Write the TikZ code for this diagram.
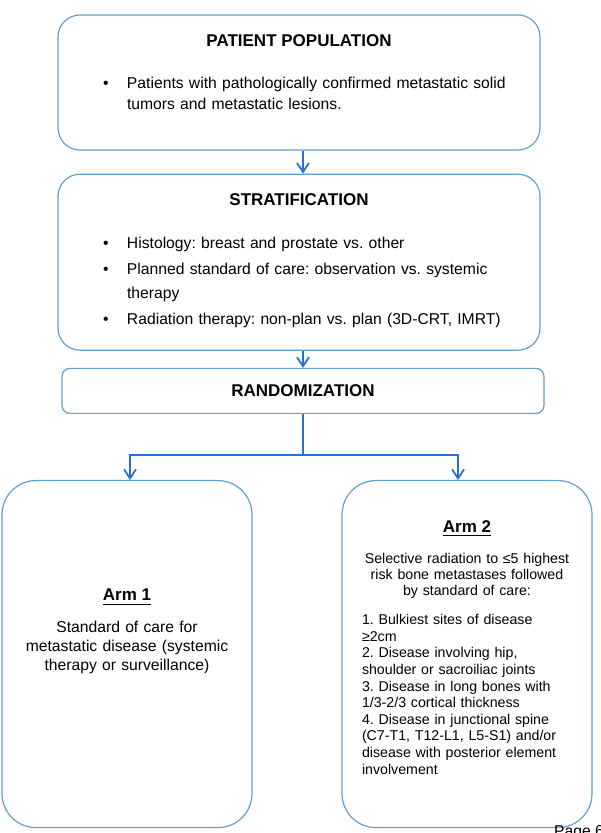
\documentclass[tikz,border=0pt]{standalone}
\usepackage{fontspec}
\setmainfont{Liberation Sans}
\usepackage{xcolor}
\usepackage{tikz}
\usetikzlibrary{arrows.meta,positioning}

\definecolor{boxblue}{RGB}{96,160,210}
\definecolor{flowblue}{RGB}{40,112,214}
\frenchspacing
\newcommand{\bul}{\makebox[24pt][l]{\textbullet}}
\newcommand{\wrapin}{\hspace*{24pt}}
\newcommand{\armhead}[1]{\leavevmode\setbox0=\hbox{#1}\rlap{\vrule width \wd0 height -3pt depth 4.3pt}\box0}

\begin{document}
\begin{tikzpicture}[x=1pt,y=1pt,
 box/.style={draw=boxblue,line width=1.2pt,rounded corners=22pt,minimum width=482pt,inner sep=0pt},
 arm/.style={draw=boxblue,line width=1.2pt,rounded corners=34pt,minimum width=250pt,minimum height=347pt,inner sep=0pt},
 title/.style={font=\fontsize{17}{20}\selectfont\bfseries,inner sep=0pt},
 body/.style={font=\fontsize{15.7}{21}\selectfont,inner sep=0pt,text width=420pt,align=left},
 flowline/.style={draw=flowblue,line width=1.8pt},
 flow/.style={flowline,-{Straight Barb[length=9pt,width=12pt]}}]
\useasboundingbox (0,0) rectangle (600,833);

 % boxes
 \node[box,minimum height=135pt] (pop) at (299,750.5) {};
 \node[box,minimum height=176pt] (strat) [below=23pt of pop] {};
 \node[box,rounded corners=8pt,minimum height=45pt,font=\fontsize{17}{20}\selectfont\bfseries] (rand) [below=17pt of strat,xshift=4pt] {RANDOMIZATION};
 \node[arm] (arm1) [below=66pt of rand,xshift=-176pt] {};
 \node[arm] (arm2) [below=66pt of rand,xshift=164pt] {};

 % texts
 \node[title] (pop_t) [below=20pt of pop.north] {PATIENT POPULATION};
 \node[body] (pop_b) [below=30.5pt of pop_t,xshift=14pt]
 {\bul Patients with pathologically confirmed metastatic solid\\
 \wrapin tumors and metastatic lesions.};

 \node[title] (strat_t) [below=20pt of strat.north] {STRATIFICATION};
 \node[body,font=\fontsize{15.7}{24}\selectfont] (strat_b) [below=30.5pt of strat_t,xshift=14pt]
 {\bul Histology: breast and prostate vs. other\\[2pt]
 \bul Planned standard of care: observation vs. systemic\\
 \wrapin therapy\\[2pt]
 \bul Radiation therapy: non-plan vs. plan (3D-CRT, IMRT)};

 \node[title] (arm1_t) [below=109pt of arm1.north] {\armhead{Arm 1}};
 \node[body,font=\fontsize{15.7}{19}\selectfont,text width=230pt,align=center] (arm1_b) [below=140.5pt of arm1.north]
 {Standard of care for\\ metastatic disease (systemic\\ therapy or surveillance)};

 \node[title] (arm2_t) [below=40pt of arm2.north] {\armhead{Arm 2}};
 \node[body,font=\fontsize{14.2}{16}\selectfont,text width=225pt,align=center] (arm2_i) [below=72.6pt of arm2.north]
 {Selective radiation to ≤5 highest\\ risk bone metastases followed\\ by standard of care:};
 \node[body,font=\fontsize{14.2}{16.6}\selectfont,text width=210pt] (arm2_l) [below=134.3pt of arm2.north]
 {1. Bulkiest sites of disease\\
 ≥2cm\\
 2. Disease involving hip,\\
 shoulder or sacroiliac joints\\
 3. Disease in long bones with\\
 1/3-2/3 cortical thickness\\
 4. Disease in junctional spine\\
 (C7-T1, T12-L1, L5-S1) and/or\\
 disease with posterior element\\
 involvement};

 \node[anchor=north west,inner sep=0pt,font=\fontsize{15.7}{19}\selectfont] (page) at (554,8) {Page 6};

 % connectors
 \draw[flow] (pop.south -| rand) -- (strat.north -| rand);
 \draw[flow] (strat.south -| rand) -- (rand.north);
 \coordinate (split) at ([yshift=-41pt]rand.south);
 \draw[flowline] (rand.south) -- (split);
 \draw[flow] (split) -| ([xshift=3pt]arm1.north);
 \draw[flow] (split) -| ([xshift=-9pt]arm2.north);
\end{tikzpicture}
\end{document}
